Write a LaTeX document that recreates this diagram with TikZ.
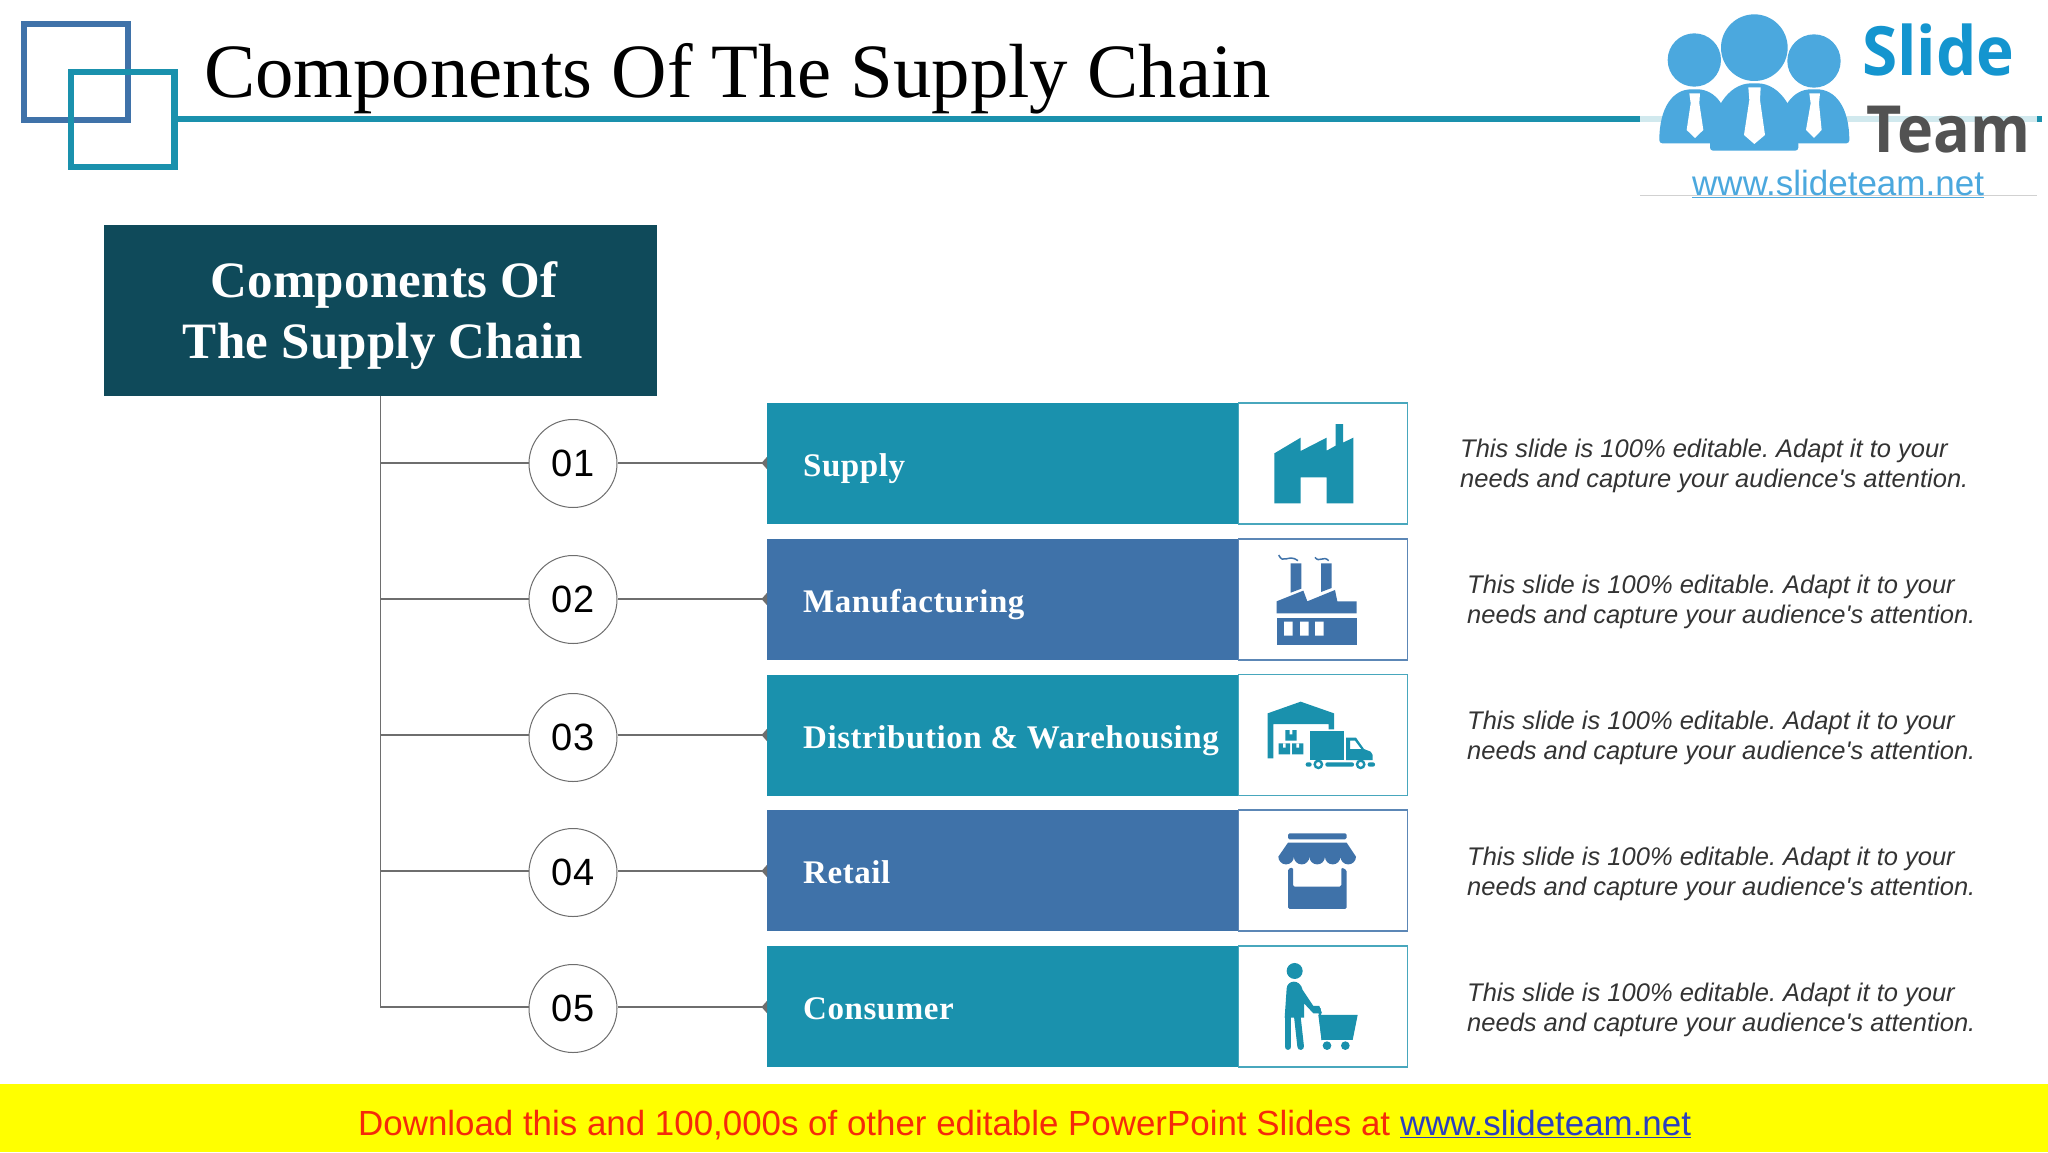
\documentclass[tikz,border=0pt]{standalone}
\usepackage{fontspec}
\setmainfont{Liberation Serif}
\setsansfont{Liberation Sans}
\newfontfamily\logofont[FakeStretch=0.94]{Open Sans}
\newfontfamily\barfont[LetterSpace=1.7]{Liberation Serif}
\newfontfamily\headfont[LetterSpace=0.5]{Liberation Serif}
\usetikzlibrary{arrows.meta}
\definecolor{tealbar}{HTML}{1A91AD}
\definecolor{bluebar}{HTML}{3F72A9}
\definecolor{headbox}{HTML}{0F4A5A}
\definecolor{linegray}{HTML}{6E6E6E}
\definecolor{logoblue}{HTML}{4BA8DE}
\definecolor{slideblue}{HTML}{1495CF}
\definecolor{adyellow}{HTML}{FFFF00}
\definecolor{adred}{HTML}{F52A0A}
\definecolor{adlink}{HTML}{2B3FBE}
\newcommand{\pxfont}[1]{\fontsize{#1}{#1}\selectfont}
\newcommand{\blurb}{This slide is 100\% editable. Adapt it to your\\needs and capture your audience\textquotesingle s attention.}

\begin{document}
\begin{tikzpicture}[x=1pt, y=-1pt,
  bar/.style={minimum width=471pt, minimum height=121pt, inner sep=0pt, anchor=west},
  iconbox/.style={draw, fill=white, line width=1.2pt, minimum width=169pt, minimum height=121pt, inner sep=0pt, anchor=west},
  num/.style={circle, draw=linegray, line width=1pt, fill=white, minimum size=88pt, inner sep=0pt, font=\sffamily\pxfont{38}},
  barlabel/.style={anchor=base west, inner sep=0pt, text=white, font=\barfont\bfseries\pxfont{33}},
  desc/.style={anchor=west, align=left, inner sep=0pt, text=black!80, font=\sffamily\itshape\frenchspacing\fontsize{25.5}{30.5}\selectfont},
  link/.style={linegray, line width=1.9pt},
  dot/.style={-{Triangle[reversed, length=5.5pt, width=12pt]}}]
\useasboundingbox (0,0) rectangle (2048,1152);
\fill[white] (0,0) rectangle (2048,1152);

\draw[bluebar, line width=6.5pt] (24,24) rectangle (128,120);
\draw[tealbar, line width=6.5pt] (71,72) rectangle (174.5,167);
\coordinate (ruleA) at (174.5,119);
\coordinate (ruleB) at (2042,119);
\draw[tealbar, line width=5.5pt] (ruleA)--(ruleB);
\node[anchor=base west, inner sep=0pt, font=\pxfont{76.8}] (title) at (204,97) {Components Of The Supply Chain};

\fill[white, fill opacity=.8] (1640,0) rectangle (2037,195);
\draw[black!18, line width=1pt] (1640,195)--(2037,195);
\begin{scope}[shift={(1600,0)}, scale=.3333, logoblue]
\fill (283,180) circle[radius=80];
\fill (642,183) circle[radius=80];
\fill[rounded corners=3pt] (178,430) .. controls (178,320) and (220,268) .. (283,268) .. controls (345,268) and (390,320) .. (390,430) -- cycle;
\fill[rounded corners=3pt] (748,430) .. controls (748,320) and (705,268) .. (642,268) .. controls (580,268) and (535,320) .. (535,430) -- cycle;
\fill[white] (268,280)--(300,280)--(298,310)--(310,390)--(285,414)--(260,390)--(272,310)--cycle;
\fill[white] (628,280)--(660,280)--(657,310)--(665,390)--(642,414)--(618,390)--(632,310)--cycle;
\fill (463,143) circle[radius=100];
\fill[rounded corners=3pt] (330,452) .. controls (330,330) and (385,250) .. (463,250) .. controls (540,250) and (595,330) .. (595,452) -- cycle;
\fill[white] (445,262)--(482,262)--(480,300)--(495,405)--(463,432)--(432,405)--(448,300)--cycle;
\end{scope}
\node[anchor=base west, inner sep=0pt, text=slideblue, font=\logofont\bfseries\pxfont{68}] (slide) at (1862,75) {Slide};
\node[anchor=base west, inner sep=0pt, text=black!68, font=\logofont\bfseries\pxfont{65}] (team) at (1866,152) {Team};
\node[anchor=base west, inner sep=0pt, text=logoblue, font=\sffamily\pxfont{35}] (site) at (1692,195) {\underline{www.slideteam.net}};

\node[fill=headbox, minimum width=553pt, minimum height=171pt, anchor=north west, inner sep=0pt] (head) at (104,225) {};
\node[anchor=base, inner sep=0pt, text=white, font=\headfont\bfseries\pxfont{51}] (headA) at (384,297) {Components Of};
\node[anchor=base, inner sep=0pt, text=white, font=\headfont\bfseries\pxfont{51}] (headB) at (383,358) {The Supply Chain};

\coordinate (spine) at (380.3,396);
\coordinate (t1) at (380.3,463);
\coordinate (t2) at (380.3,599);
\coordinate (t3) at (380.3,735);
\coordinate (t4) at (380.3,871);
\coordinate (t5) at (380.3,1007);
\draw[linegray, line width=1.3pt] (spine)--(t5);

\node[bar, fill=tealbar] (b1) at (767,463.5) {};
\node[bar, fill=bluebar] (b2) at (767,599.5) {};
\node[bar, fill=tealbar] (b3) at (767,735) {};
\node[bar, fill=bluebar] (b4) at (767,870.5) {};
\node[bar, fill=tealbar] (b5) at (767,1006.5) {};
\node[num] (n1) at (573,463.5) {01};
\node[num] (n2) at (573,599.5) {02};
\node[num] (n3) at (573,737.5) {03};
\node[num] (n4) at (573,872.5) {04};
\node[num] (n5) at (573,1008.5) {05};
\draw[link] (t1)--(n1.west |- t1);
\draw[link] (t2)--(n2.west |- t2);
\draw[link] (t3)--(n3.west |- t3);
\draw[link] (t4)--(n4.west |- t4);
\draw[link] (t5)--(n5.west |- t5);
\draw[link, dot] (n1.east |- t1)--(b1.west |- t1);
\draw[link, dot] (n2.east |- t2)--(b2.west |- t2);
\draw[link, dot] (n3.east |- t3)--(b3.west |- t3);
\draw[link, dot] (n4.east |- t4)--(b4.west |- t4);
\draw[link, dot] (n5.east |- t5)--(b5.west |- t5);

\node[barlabel] (l1) at (803,476) {Supply};
\node[barlabel] (l2) at (803,612) {Manufacturing};
\node[barlabel] (l3) at (803,748) {Distribution \& Warehousing};
\node[barlabel] (l4) at (803,883) {Retail};
\node[barlabel] (l5) at (803,1019) {Consumer};

\node[iconbox, draw=tealbar!80] (i1) at (1238,463.5) {};
\node[iconbox, draw=bluebar!85] (i2) at (1238,599.5) {};
\node[iconbox, draw=tealbar!80] (i3) at (1238,735) {};
\node[iconbox, draw=bluebar!85] (i4) at (1238,870.5) {};
\node[iconbox, draw=tealbar!80] (i5) at (1238,1006.5) {};

\begin{scope}[shift={(1220,400)}, scale=.3333]
\fill[tealbar] (163,160)--(242,113)--(242,153)--(320,113)--(320,152)--(347,137)--(347,72)--(369,72)--(369,128)--(400,113)--(400,310)--(320,310)--(320,232)--(242,232)--(242,310)--(163,310)--cycle;
\fill[bluebar] (170,653) rectangle (410,735);
\fill[white] (192,665) rectangle (218,707) (240,665) rectangle (266,707) (285,665) rectangle (311,707);
\fill[bluebar] (170,640)--(170,604)--(250,572)--(262,604)--(345,570)--(352,604)--(410,604)--(410,640)--cycle;
\fill[bluebar] (212,490)--(244,490)--(244,566)--(212,578)--cycle;
\fill[bluebar] (303,490)--(335,490)--(335,564)--(303,576)--cycle;
\draw[bluebar, line width=1.5pt] (176,465) .. controls (190,495) and (205,460) .. (234,482);
\draw[bluebar, line width=1.5pt] (285,472) .. controls (298,490) and (310,465) .. (326,482);
\end{scope}

\begin{scope}[shift={(1220,670)}, scale=.3333, tealbar]
\fill (143,130)--(242,95)--(342,130)--(342,178)--(326,178)--(326,162)--(160,162)--(160,265)--(143,265)--cycle;
\fill (196,180) rectangle (230,212) (176,220) rectangle (210,253) (216,220) rectangle (250,253);
\fill[white] (209,180) rectangle (217,193) (189,220) rectangle (197,233) (229,220) rectangle (237,233);
\fill (269,183) rectangle (372,270);
\fill[even odd rule] (378,203)--(408,203)--(432,237)--(452,245)--(458,255)--(458,270)--(378,270)--cycle (390,212)--(405,212)--(424,237)--(390,237)--cycle;
\fill[rounded corners=2pt] (257,277) rectangle (275,290) (316,277) rectangle (402,290) (443,277) rectangle (465,290);
\draw[line width=2.4pt] (295,283) circle[radius=11] (422,283) circle[radius=11];
\end{scope}

\begin{scope}[shift={(1220,670)}, scale=.3333, bluebar]
\fill[rounded corners=1.5pt] (204,490) rectangle (380,508);
\fill (204,518)--(380,518)--(408,560) arc[start angle=0, end angle=180, radius=23.3] arc[start angle=0, end angle=180, radius=23.3] arc[start angle=0, end angle=180, radius=23.3] arc[start angle=0, end angle=180, radius=23.3] arc[start angle=0, end angle=180, radius=23.3]--cycle;
\fill[rounded corners=1.5pt] (204,597)--(219,592)--(219,650)--(364,650)--(364,592)--(380,600)--(380,717)--(204,717)--cycle;
\end{scope}

\begin{scope}[shift={(1220,670)}, scale=.3333, tealbar]
\fill (224,903) circle[radius=24];
\fill (194,1043)--(200,955) .. controls (202,930) and (240,925) .. (248,960)--(280,1008)--(298,1008)--(306,1030)--(280,1030)--(252,1000)--(252,1043)--cycle;
\draw[line width=6.6pt, line cap=round] (204,1040)--(204,1130);
\draw[line width=6.6pt, line cap=round] (232,1040)--(242,1130);
\draw[line width=2.4pt] (298,1015)--(308,1110);
\fill (295,1035)--(413,1035)--(398,1110)--(305,1110)--cycle;
\fill (321,1127) circle[radius=13];
\fill (376,1127) circle[radius=13];
\end{scope}

\node[desc] (d1) at (1460,466) {\blurb};
\node[desc] (d2) at (1467,602) {\blurb};
\node[desc] (d3) at (1467,738) {\blurb};
\node[desc] (d4) at (1467,874) {\blurb};
\node[desc] (d5) at (1467,1010) {\blurb};

\fill[adyellow] (0,1084) rectangle (2048,1152);
\node[anchor=base west, inner sep=0pt, text=adred, font=\sffamily\pxfont{34.9}] (ad) at (358,1135) {Download this and 100,000s of other editable PowerPoint Slides at \textcolor{adlink}{\underline{www.slideteam.net}}};
\end{tikzpicture}
\end{document}
